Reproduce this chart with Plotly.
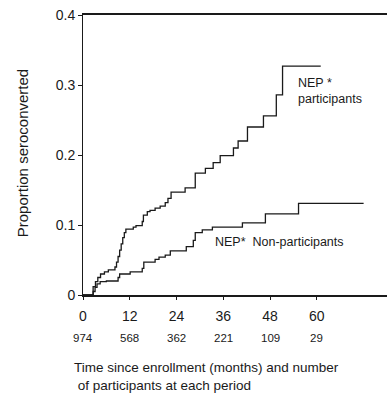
import plotly.graph_objects as go

# Step data (months, proportion seroconverted)
part_months = [0, 2.6, 3.2, 3.8, 4.5, 5.5, 6.5, 8.2, 8.6, 9.0, 9.4, 9.8, 10.2, 10.6, 11.0,
               12.9, 13.6, 15.2, 15.5, 16.5, 17.2, 18.5, 19.8, 21.1, 21.8, 22.6, 26.2,
               28.8, 31.4, 33.4, 35.2, 38.6, 39.8, 42.2, 46.3, 49.6, 51.2, 61.0]
part_values = [0, 0.012, 0.019, 0.025, 0.030, 0.033, 0.036, 0.040, 0.047, 0.055, 0.064, 0.073,
               0.082, 0.089, 0.094, 0.097, 0.099, 0.105, 0.114, 0.119, 0.121, 0.124, 0.127,
               0.132, 0.138, 0.147, 0.153, 0.174, 0.181, 0.189, 0.199, 0.210, 0.220, 0.240,
               0.256, 0.286, 0.327, 0.327]

nonpart_months = [0, 2.6, 3.1, 3.6, 4.4, 6.0, 9.0, 9.4, 12.1, 15.2, 15.6, 18.5, 19.5, 21.1,
                  22.4, 26.5, 28.3, 28.8, 30.6, 33.2, 40.9, 46.8, 55.3, 72.0]
nonpart_values = [0, 0.005, 0.011, 0.016, 0.019, 0.020, 0.025, 0.030, 0.033, 0.038, 0.047,
                  0.051, 0.054, 0.057, 0.063, 0.069, 0.078, 0.089, 0.093, 0.097, 0.103,
                  0.116, 0.131, 0.131]

x_ticks = [0, 12, 24, 36, 48, 60]
at_risk = ["974", "568", "362", "221", "109", "29"]
y_ticks = [0, 0.1, 0.2, 0.3, 0.4]
y_ticktext = ["0", "0.1", "0.2", "0.3", "0.4"]

FONT = "Liberation Sans, Arial, sans-serif"
INK = "#1a1a1a"

fig = go.Figure()
fig.add_trace(go.Scatter(x=part_months, y=part_values, mode="lines",
                         line=dict(shape="hv", color=INK, width=1.3),
                         showlegend=False, hoverinfo="skip"))
fig.add_trace(go.Scatter(x=nonpart_months, y=nonpart_values, mode="lines",
                         line=dict(shape="hv", color=INK, width=1.3),
                         showlegend=False, hoverinfo="skip"))

fig.update_xaxes(range=[0, 78], tickvals=x_ticks, ticktext=[str(v) for v in x_ticks],
                 showgrid=False, zeroline=False, showline=True, linecolor=INK, linewidth=2,
                 mirror=True, ticks="outside", ticklen=3, tickcolor=INK, tickwidth=1,
                 automargin=False, ticklabelstandoff=4,
                 tickfont=dict(family=FONT, size=14, color=INK))
fig.update_yaxes(range=[0, 0.4], tickvals=y_ticks, ticktext=y_ticktext,
                 showgrid=False, zeroline=False, showline=True, linecolor=INK, linewidth=1,
                 ticks="outside", ticklen=4, tickcolor=INK, tickwidth=1,
                 automargin=False,
                 tickfont=dict(family=FONT, size=14, color=INK))

annotations = []
for xv, n in zip(x_ticks, at_risk):
    annotations.append(dict(x=xv, y=-0.154, xref="x", yref="paper", text=n, showarrow=False,
                            xanchor="center", yanchor="middle",
                            font=dict(family=FONT, size=11.5, color=INK)))

annotations += [
    dict(x=-0.036, y=-0.225, xref="paper", yref="paper", xanchor="left", yanchor="top",
         align="left", showarrow=False,
         text="Time since enrollment (months) and number<br> of participants at each period",
         font=dict(family=FONT, size=13.5, color=INK)),
    dict(x=-0.2, y=0.507, xref="paper", yref="paper", xanchor="center", yanchor="middle",
         textangle=-90, showarrow=False, text="Proportion seroconverted",
         font=dict(family=FONT, size=15, color=INK)),
    dict(x=0.7, y=0.73, xref="paper", yref="paper", xanchor="left", yanchor="middle",
         align="left", showarrow=False, text="NEP *<br>participants",
         font=dict(family=FONT, size=12.5, color=INK)),
    dict(x=0.427, y=0.189, xref="paper", yref="paper", xanchor="left", yanchor="middle",
         showarrow=False, text="NEP*  Non-participants",
         font=dict(family=FONT, size=12.5, color=INK)),
]

fig.update_layout(width=388, height=400, margin=dict(l=83, r=1, t=15, b=105),
                  paper_bgcolor="white", plot_bgcolor="white", annotations=annotations)

fig.write_html("out.html", config={"displayModeBar": False},
               post_script="document.body.style.margin='0';")
